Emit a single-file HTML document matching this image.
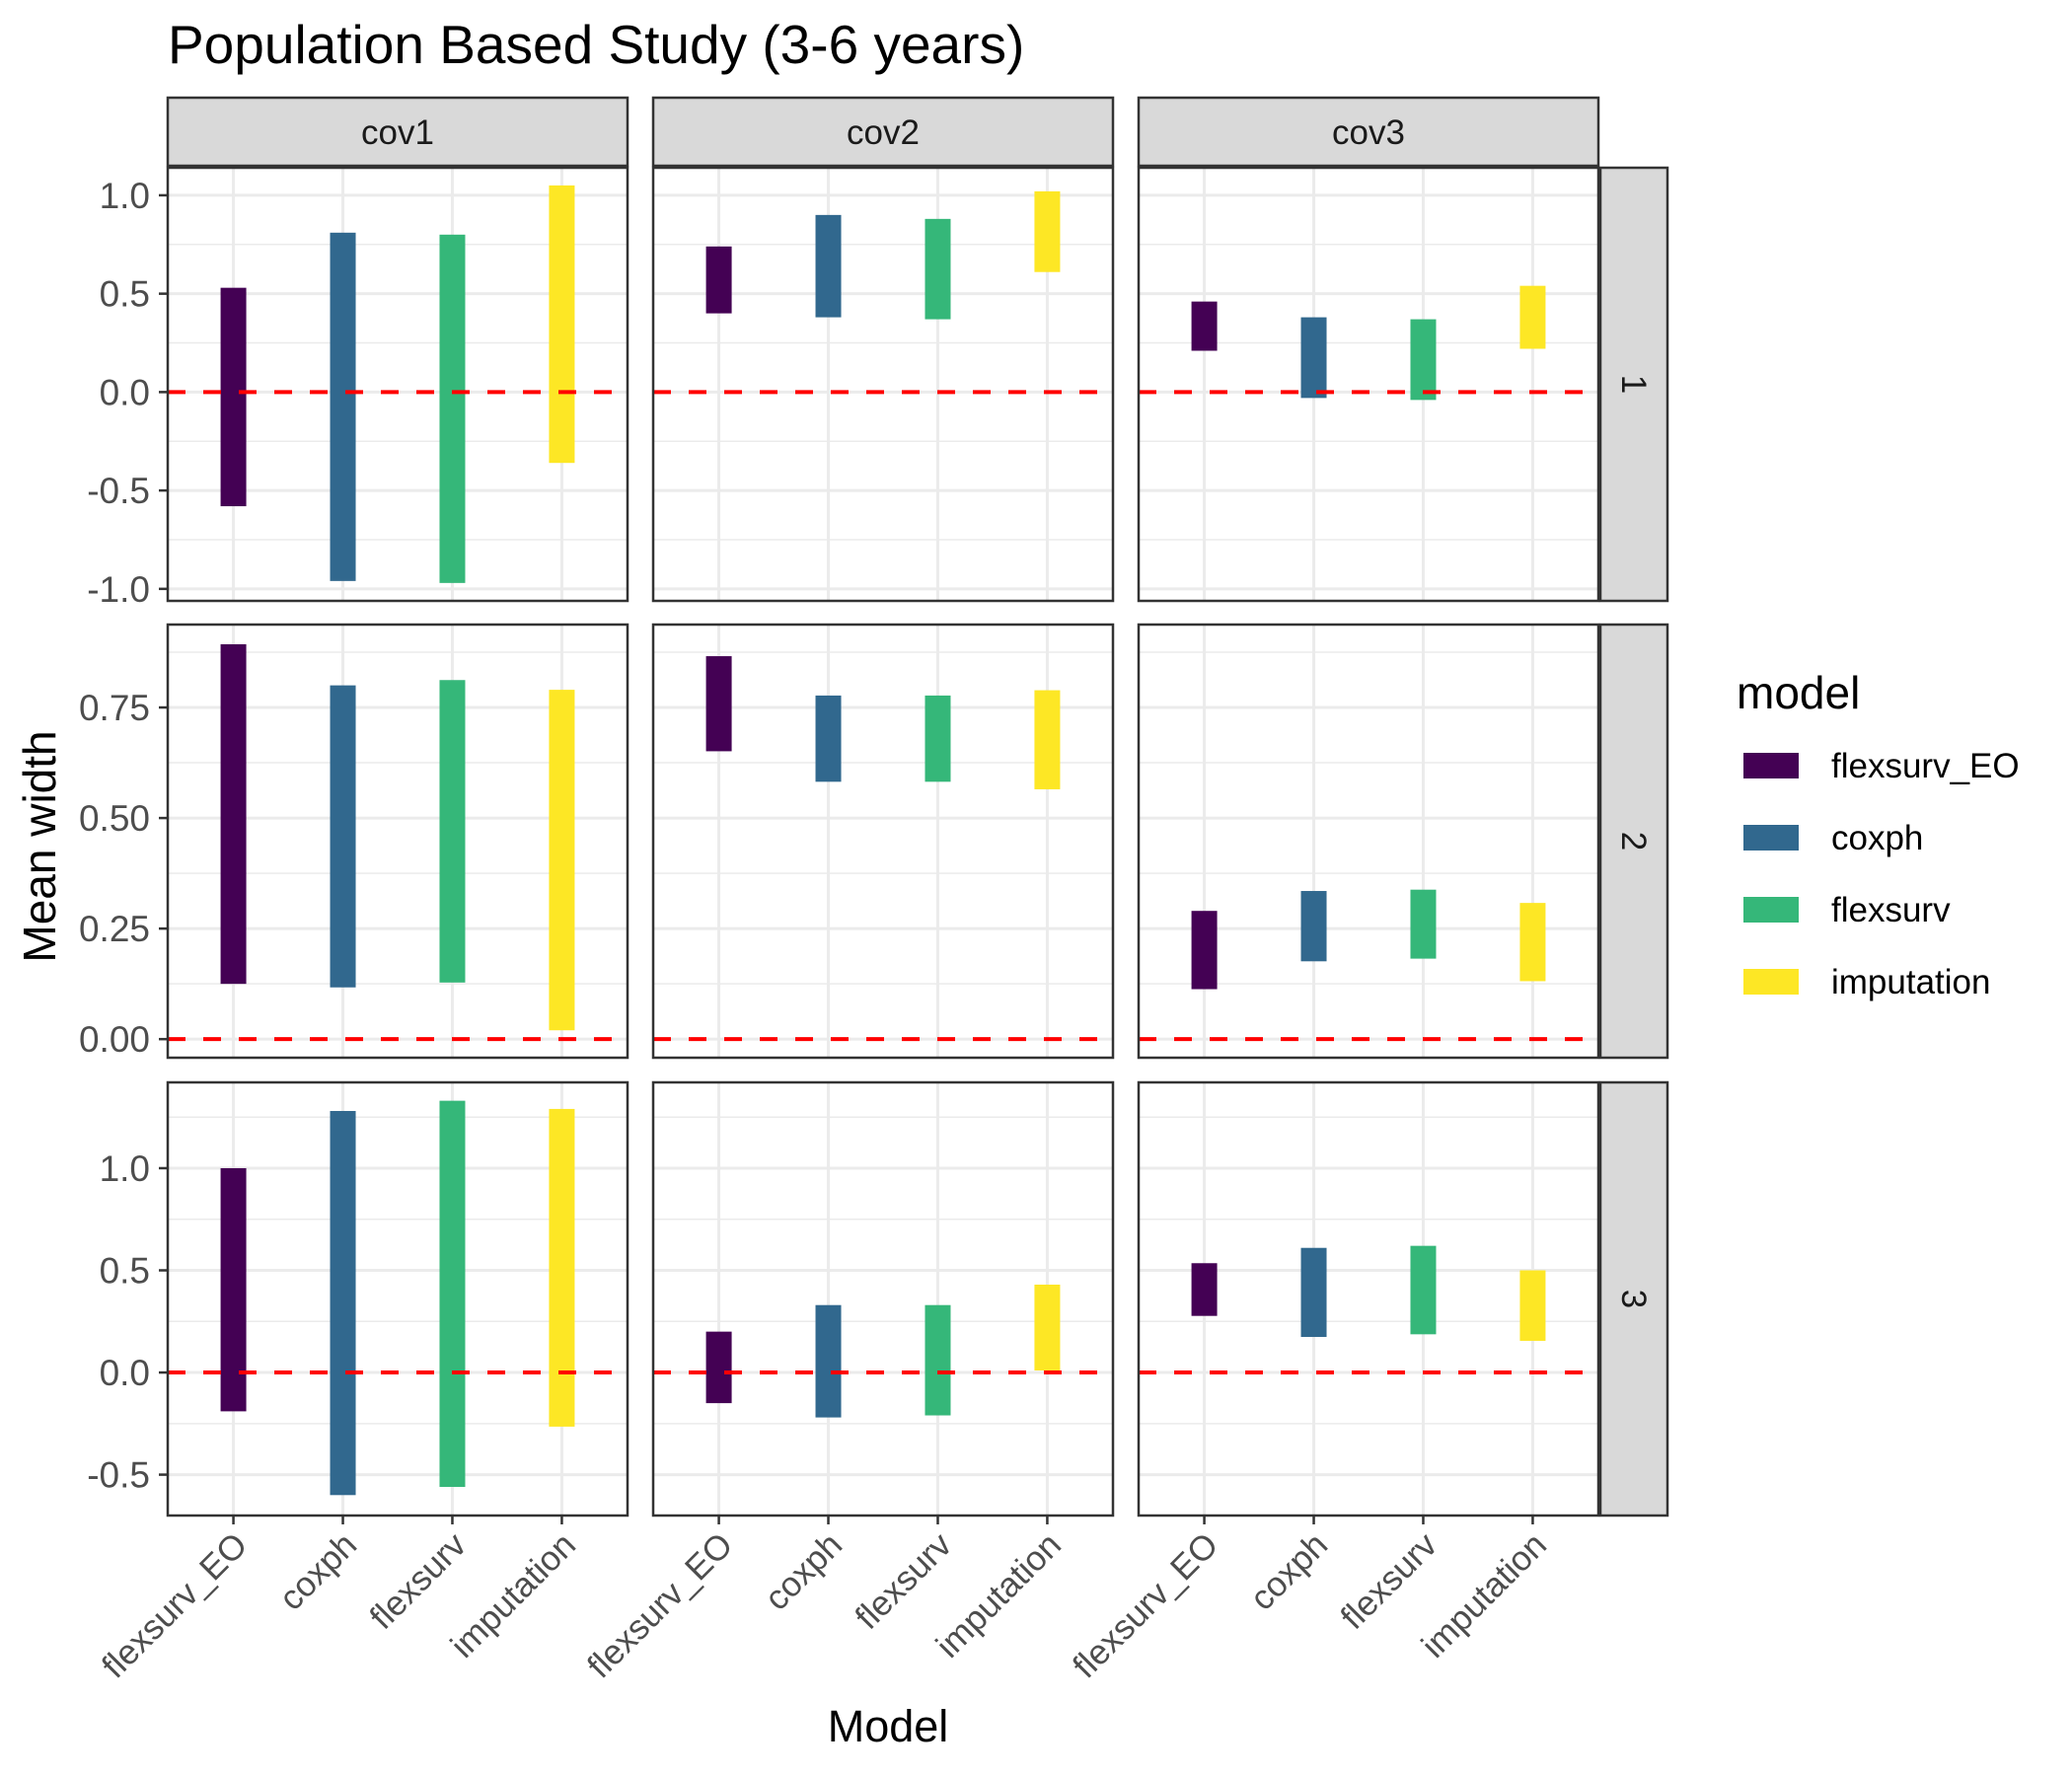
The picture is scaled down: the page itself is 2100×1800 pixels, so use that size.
<!DOCTYPE html>
<html><head><meta charset="utf-8"><style>body{margin:0;background:#fff}svg{display:block}text{font-family:"Liberation Sans",Arial,sans-serif}</style></head>
<body>
<svg id="chart" width="2100" height="1800" viewBox="0 0 2100 1800" xmlns="http://www.w3.org/2000/svg">
<text x="170" y="64" font-size="55" fill="#000">Population Based Study (3-6 years)</text>
<text transform="translate(56,858) rotate(-90)" text-anchor="middle" font-size="46" fill="#000">Mean width</text>
<text x="900" y="1765" text-anchor="middle" font-size="45" fill="#000">Model</text>
<g id="legend"><text x="1760" y="718" font-size="46" fill="#000">model</text></g>
</svg>
<script>
const categories = ["flexsurv_EO","coxph","flexsurv","imputation"];
const covs = ["cov1","cov2","cov3"];
const rows = ["1","2","3"];
const colors = ["#440154","#31688E","#35B779","#FDE725"];
const lower1 = [[-0.58,-0.96,-0.97,-0.36],[0.40,0.38,0.37,0.61],[0.21,-0.03,-0.04,0.22]];
const upper1 = [[0.53,0.81,0.80,1.05],[0.74,0.90,0.88,1.02],[0.46,0.38,0.37,0.54]];
const lower2 = [[0.125,0.117,0.128,0.02],[0.651,0.582,0.582,0.565],[0.113,0.176,0.182,0.131]];
const upper2 = [[0.893,0.80,0.812,0.79],[0.866,0.777,0.777,0.789],[0.29,0.335,0.338,0.308]];
const lower3 = [[-0.19,-0.60,-0.56,-0.265],[-0.15,-0.22,-0.21,0.01],[0.277,0.174,0.187,0.155]];
const upper3 = [[1.0,1.28,1.33,1.29],[0.20,0.33,0.33,0.43],[0.535,0.61,0.62,0.50]];
const yTicks1 = [-1.0,-0.5,0.0,0.5,1.0];
const yTickLabels1 = ["-1.0","-0.5","0.0","0.5","1.0"];
const yTicks2 = [0,0.25,0.5,0.75];
const yTickLabels2 = ["0.00","0.25","0.50","0.75"];
const yTicks3 = [-0.5,0,0.5,1.0];
const yTickLabels3 = ["-0.5","0.0","0.5","1.0"];
const yDomains = [[-1.061,1.14],[-0.042,0.9375],[-0.70,1.42]];

const lowers=[lower1,lower2,lower3], uppers=[upper1,upper2,upper3];
const ticksAll=[yTicks1,yTicks2,yTicks3], tickLabs=[yTickLabels1,yTickLabels2,yTickLabels3];
const svg=document.getElementById('chart');
const NS='http://www.w3.org/2000/svg';
function el(tag,attrs,parent){const e=document.createElementNS(NS,tag);for(const k in attrs)e.setAttribute(k,attrs[k]);(parent||svg).appendChild(e);return e;}
const colX=[170,662,1154], W=466, rowY=[170,633,1097], H=439;
const xScale=(i,c)=>colX[c]+(i+0.6)/4.2*W;
function yScale(v,r){const d=yDomains[r];return rowY[r]+H-(v-d[0])/(d[1]-d[0])*H;}

covs.forEach((cv,c)=>{
  const g=el('g',{});
  
  
  el('rect',{x:colX[c],y:99,width:W,height:69,fill:'#d9d9d9',stroke:'#333','stroke-width':2.5},g);
  const t=el('text',{x:colX[c]+W/2,y:146,'text-anchor':'middle','font-size':35,fill:'#1a1a1a'},g);t.textContent=cv;
});
rows.forEach((rw,r)=>{
  const g=el('g',{});
  
  
  el('rect',{x:1622,y:rowY[r],width:68,height:H,fill:'#d9d9d9',stroke:'#333','stroke-width':2.5},g);
  const t=el('text',{transform:`translate(1644,${rowY[r]+H/2}) rotate(90)`,'text-anchor':'middle','font-size':35,fill:'#1a1a1a'},g);t.textContent=rw;
});

for(let r=0;r<3;r++){
  const ticks=ticksAll[r];
  ticks.forEach((v,k)=>{
    const y=yScale(v,r);
    const tl=el('text',{x:152,y:y+13,'text-anchor':'end','font-size':37,fill:'#4d4d4d'});
    
    
    tl.textContent=tickLabs[r][k];
    el('line',{x1:161,x2:170,y1:y,y2:y,stroke:'#333','stroke-width':2.5});
  });
  for(let c=0;c<3;c++){
    const p=el('g',{});
    
    
    el('rect',{x:colX[c],y:rowY[r],width:W,height:H,fill:'#fff'},p);
    const step=ticks[1]-ticks[0];
    const d=yDomains[r];
    for(let v=ticks[0]-step/2;v<=d[1];v+=step){ if(v>=d[0]){const y=yScale(v,r);el('line',{x1:colX[c],x2:colX[c]+W,y1:y,y2:y,stroke:'#ebebeb','stroke-width':1.5},p);} }
    ticks.forEach(v=>{const y=yScale(v,r);el('line',{x1:colX[c],x2:colX[c]+W,y1:y,y2:y,stroke:'#ebebeb','stroke-width':3},p);});
    categories.forEach((n,i)=>{const x=xScale(i,c);el('line',{x1:x,x2:x,y1:rowY[r],y2:rowY[r]+H,stroke:'#ebebeb','stroke-width':3},p);});
    categories.forEach((n,i)=>{
      const x=xScale(i,c), y1=yScale(uppers[r][c][i],r), y2=yScale(lowers[r][c][i],r);
      const b=el('rect',{x:x-13,y:y1,width:26,height:y2-y1,fill:colors[i]},p);
      
      
    });
    const z=el('line',{x1:colX[c],x2:colX[c]+W,y1:yScale(0,r),y2:yScale(0,r),stroke:'#ff0000','stroke-width':4,'stroke-dasharray':'18,18'},p);
    
    
    el('rect',{x:colX[c],y:rowY[r],width:W,height:H,fill:'none',stroke:'#333','stroke-width':2.5},p);
  }
}
for(let c=0;c<3;c++){
  categories.forEach((n,i)=>{
    const x=xScale(i,c), yb=rowY[2]+H;
    el('line',{x1:x,x2:x,y1:yb,y2:yb+9,stroke:'#333','stroke-width':2.5});
    const t=el('text',{transform:`translate(${x+16},${yb+32}) rotate(-45)`,'text-anchor':'end','font-size':35,fill:'#4d4d4d'});
    
    
    t.textContent=n;
  });
}
const lg=document.getElementById('legend');
const legendY=[776,849,922,995];
categories.forEach((n,i)=>{
  const g=el('g',{},lg);
  
  
  el('rect',{x:1767,y:legendY[i]-13,width:56,height:26,fill:colors[i]},g);
  const t=el('text',{x:1856,y:legendY[i]+12,'font-size':35,fill:'#000'},g);t.textContent=n;
});
</script>
</body></html>
